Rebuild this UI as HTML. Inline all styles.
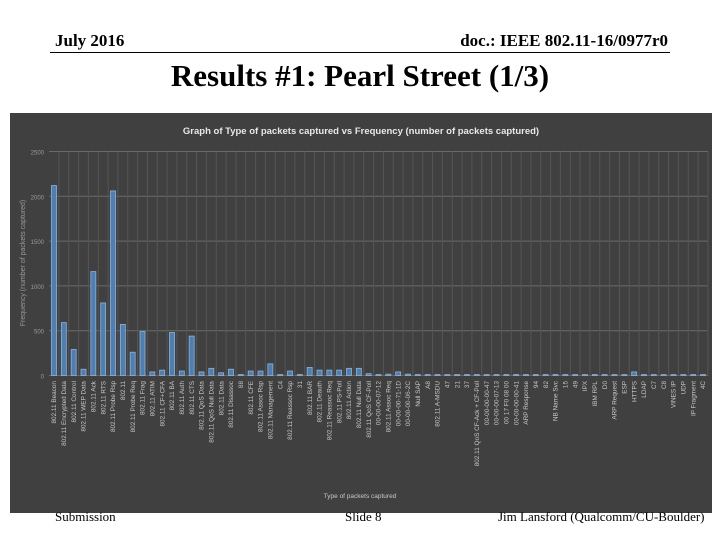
<!DOCTYPE html>
<html><head><meta charset="utf-8"><style>
body{margin:0;width:720px;height:540px;background:#fff;position:relative;overflow:hidden;font-family:"Liberation Serif",serif}
.t{position:absolute;white-space:nowrap}
</style></head><body>
<div class="t" style="left:55px;top:31px;font-size:17px;font-weight:bold">July 2016</div>
<div class="t" style="right:52px;top:31px;font-size:17px;font-weight:bold">doc.: IEEE 802.11-16/0977r0</div>
<div style="position:absolute;left:50px;top:52px;width:620px;height:1px;background:#000"></div>
<div class="t" style="left:0;width:720px;text-align:center;top:58px;font-size:31px;font-weight:bold">Results #1: Pearl Street (1/3)</div>
<svg style="position:absolute;left:0;top:0" width="720" height="540" id="chart"></svg>
<div class="t" style="left:55px;top:509px;font-size:13px">Submission</div>
<div class="t" style="left:345px;top:509px;font-size:13px">Slide 8</div>
<div class="t" style="left:498px;top:509px;font-size:13px">Jim Lansford (Qualcomm/CU-Boulder)</div>
<script>
const categories=["802.11 Beacon","802.11 Encrypted Data","802.11 Control","802.11 WEP Data","802.11 Ack","802.11 RTS","802.11 Probe Rsp","802.11","802.11 Probe Req","802.11 Frag","802.11 ATIM","802.11 CF+CFA","802.11 BA","802.11 Auth","802.11 CTS","802.11 QoS Data","802.11 QoS Null Data","802.11 Data","802.11 Disassoc","88","802.11 CFE","802.11 Assoc Rsp","802.11 Management","C4","802.11 Reassoc Rsp","31","802.11 BAR","802.11 Deauth","802.11 Reassoc Req","802.11 PS-Poll","802.11 Action","802.11 Null Data","802.11 QoS CF-Poll","00-00-00-07-12","802.11 Assoc Req","00-00-00-71-1D","00-00-00-06-2C","Null SAP","A8","802.11 A-MSDU","47","21","37","802.11 QoS CF-Ack + CF-Poll","00-00-00-00-47","00-00-00-07-13","00 17 F0 08 00","00-00-00-00-41","ARP Response","94","82","NB Name Svc","15","49","IPX","IBM RPL","D0","ARP Request","ESP","HTTPS","LDAP","C7","C8","VINES IP","UDP","IP Fragment","4C"];
const values=[2120,590,290,70,1160,810,2060,570,260,490,40,60,480,50,440,40,80,30,70,10,50,50,130,10,50,10,90,60,60,60,80,80,20,10,15,40,15,10,10,10,10,10,10,10,10,10,10,10,10,10,10,10,10,10,10,10,10,10,10,40,10,10,10,10,10,10,10];
const yTicks=[0,500,1000,1500,2000,2500];
const svg=document.getElementById('chart');
const NS='http://www.w3.org/2000/svg';
function mk(t,a,p){const e=document.createElementNS(NS,t);for(const k in a)e.setAttribute(k,a[k]);(p||svg).appendChild(e);return e;}
const X0=54,X1=703,Y0=375.5,Ytop=151.5,YMAX=2500;
const step=(X1-X0)/(categories.length-1);
const xs=i=>X0+i*step;
const ys=v=>Y0-(v/YMAX)*(Y0-Ytop);
const bg=mk('rect',{x:10,y:113,width:702,height:400,fill:'#404040'});


const ttl=mk('text',{x:361,y:134,'text-anchor':'middle',fill:'#e8e8e8','font-size':9.5,'font-weight':'bold','font-family':'Liberation Sans, sans-serif'});
ttl.textContent='Graph of Type of packets captured vs Frequency (number of packets captured)';


yTicks.forEach(v=>{
  const g=mk('line',{x1:49,x2:708,y1:ys(v),y2:ys(v),stroke:'#6a6a6a','stroke-width':1});
  
  
  const t=mk('text',{x:44,y:ys(v)+3,'text-anchor':'end',fill:'#9a9a9a','font-size':6,'font-family':'Liberation Sans, sans-serif'});
  t.textContent=v;
  
  
});
categories.forEach((c,i)=>{
  const x=xs(i);
  const g=mk('line',{x1:x+step/2,x2:x+step/2,y1:Ytop,y2:Y0,stroke:'#555','stroke-width':1});
  
  
  const b=mk('rect',{x:x-2.5,y:ys(values[i]),width:5,height:Y0-ys(values[i]),fill:'#4d7fb3',stroke:'#8fb3d9','stroke-width':0.8});
  
  
  const t=mk('text',{x:0,y:0,transform:`translate(${x+2.2},381) rotate(-90)`,'text-anchor':'end',fill:'#c8c8c8','font-size':6.4,'font-family':'Liberation Sans, sans-serif'});
  t.textContent=c;
  
  
});
const yt=mk('text',{x:0,y:0,transform:'translate(25,263) rotate(-90)','text-anchor':'middle',fill:'#9a9a9a','font-size':7,'font-family':'Liberation Sans, sans-serif'});
yt.textContent='Frequency (number of packets captured)';


const xt=mk('text',{x:360,y:498,'text-anchor':'middle',fill:'#c8c8c8','font-size':6.5,'font-family':'Liberation Sans, sans-serif'});
xt.textContent='Type of packets captured';


</script>
</body></html>
